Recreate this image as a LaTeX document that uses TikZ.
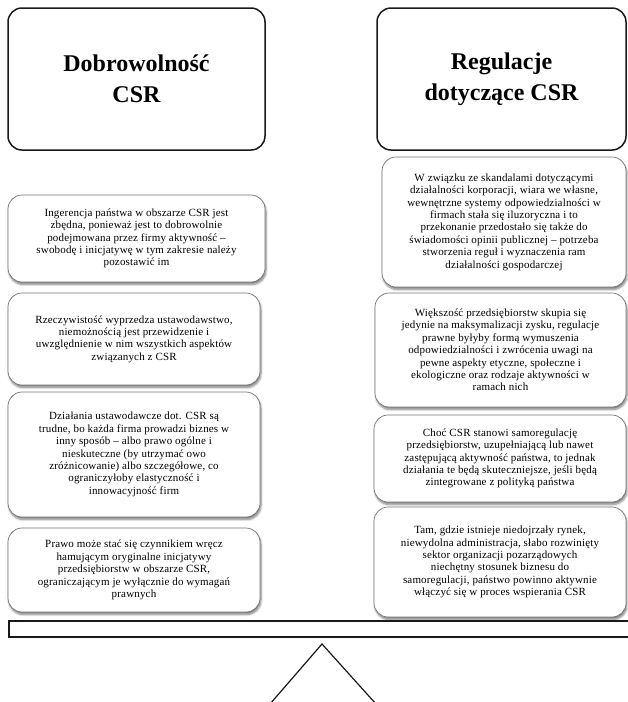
\documentclass[tikz,border=0pt]{standalone}
\usepackage{fontspec}
\setmainfont{Liberation Serif}
\newfontfamily\boxfont[LetterSpace=1.5]{Liberation Serif}
\usetikzlibrary{shadows.blur}
\begin{document}
\begin{tikzpicture}[x=1pt,y=-1pt,
 hdr/.style={draw=black!90, line width=1.5pt, rounded corners=14pt, align=center,
   font=\bfseries\fontsize{24}{31}\selectfont, inner sep=0pt},
 cbox/.style={draw=black!55, line width=0.7pt, rounded corners=14pt, fill=white, align=center,
   font=\boxfont\fontsize{11}{12.4}\selectfont, inner sep=0pt,
   blur shadow={shadow blur steps=6, shadow xshift=1pt, shadow yshift=-2.5pt, shadow opacity=50, shadow blur radius=2pt}},
 bar/.style={draw=black!90, line width=1.6pt, inner sep=0pt},
 leg/.style={draw=black!90, line width=1.2pt}
]
\useasboundingbox (0,0) rectangle (627,702);

\node[hdr, minimum width=257pt, minimum height=142pt] (h1) at (136.5,79) {Dobrowolność\\CSR};
\node[hdr, minimum width=249pt, minimum height=142pt] (h2) at (501.5,79) {Regulacje\\dotyczące CSR};

\node[cbox, minimum width=257pt, minimum height=87pt] (l1) at (136.5,238.5) {Ingerencja państwa w obszarze CSR jest\\zbędna, ponieważ jest to dobrowolnie\\podejmowana przez firmy aktywność –\\swobodę i inicjatywę w tym zakresie należy\\pozostawić im};
\node[cbox, minimum width=252pt, minimum height=92pt] (l2) at (134,339) {Rzeczywistość wyprzedza ustawodawstwo,\\niemożnością jest przewidzenie i\\uwzględnienie w nim wszystkich aspektów\\związanych z CSR};
\node[cbox, minimum width=252pt, minimum height=125pt] (l3) at (134,454.5) {Działania ustawodawcze dot. CSR są\\trudne, bo każda firma prowadzi biznes w\\inny sposób – albo prawo ogólne i\\nieskuteczne (by utrzymać owo\\zróżnicowanie) albo szczegółowe, co\\ograniczyłoby elastyczność i\\innowacyjność firm};
\node[cbox, minimum width=252pt, minimum height=84pt] (l4) at (134,570) {Prawo może stać się czynnikiem wręcz\\hamującym oryginalne inicjatywy\\przedsiębiorstw w obszarze CSR,\\ograniczającym je wyłącznie do wymagań\\prawnych};

\node[cbox, minimum width=244pt, minimum height=130pt] (r1) at (504,222) {W związku ze skandalami dotyczącymi\\działalności korporacji, wiara we własne,\\wewnętrzne systemy odpowiedzialności w\\firmach stała się iluzoryczna i to\\przekonanie przedostało się także do\\świadomości opinii publicznej – potrzeba\\stworzenia reguł i wyznaczenia ram\\działalności gospodarczej};
\node[cbox, minimum width=251pt, minimum height=114pt] (r2) at (500.5,350) {Większość przedsiębiorstw skupia się\\jedynie na maksymalizacji zysku, regulacje\\prawne byłyby formą wymuszenia\\odpowiedzialności i zwrócenia uwagi na\\pewne aspekty etyczne, społeczne i\\ekologiczne oraz rodzaje aktywności w\\ramach nich};
\node[cbox, minimum width=252pt, minimum height=87pt] (r3) at (500,458.5) {Choć CSR stanowi samoregulację\\przedsiębiorstw, uzupełniającą lub nawet\\zastępującą aktywność państwa, to jednak\\działania te będą skuteczniejsze, jeśli będą\\zintegrowane z polityką państwa};
\node[cbox, minimum width=252pt, minimum height=110pt] (r4) at (500,562) {Tam, gdzie istnieje niedojrzały rynek,\\niewydolna administracja, słabo rozwinięty\\sektor organizacji pozarządowych\\niechętny stosunek biznesu do\\samoregulacji, państwo powinno aktywnie\\włączyć się w proces wspierania CSR};

\node[bar, minimum width=622pt, minimum height=16pt] (beam) at (320,629) {};

\coordinate (apex) at (322,644);
\coordinate (footl) at (270,704);
\coordinate (footr) at (376,704);
\draw[leg] (footl) -- (apex) -- (footr);
\end{tikzpicture}
\end{document}
